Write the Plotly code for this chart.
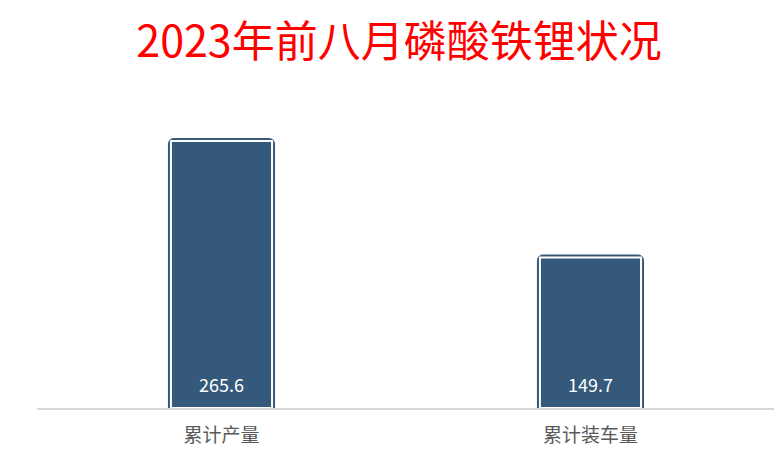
import plotly.graph_objects as go

# 2023年前八月磷酸铁锂
categories = ['累计产量', '累计装车量']
values = [265.6, 149.7]

bar_color = '#34597A'
font_cjk = "Noto Sans CJK SC"

fig = go.Figure()

# outer dark frame (thick line in bar colour, sticks out past the bar edge)
fig.add_trace(go.Bar(
    x=categories,
    y=values,
    width=0.274,
    marker=dict(color=bar_color, line=dict(color=bar_color, width=6), cornerradius=3),
    hoverinfo='skip',
    showlegend=False
))

# same bar again with a thin white rim on top of the frame
fig.add_trace(go.Bar(
    x=categories,
    y=values,
    width=0.274,
    marker=dict(color=bar_color, line=dict(color='white', width=2)),
    showlegend=False
))

# value labels near the bottom of each bar
for c, v in zip(categories, values):
    fig.add_annotation(
        x=c, y=0, text=f"{v:.1f}", showarrow=False,
        yanchor='middle', yshift=24,
        font=dict(color='white', size=18, family=font_cjk)
    )

fig.update_layout(
    title=dict(
        text="2023年前八月磷酸铁锂状况",
        font=dict(size=43, color='#FF0000', family=font_cjk),
        x=0.5, xanchor='center', y=0.925, yanchor='middle'
    ),
    barmode='overlay',
    paper_bgcolor='white',
    plot_bgcolor='white',
    font=dict(family=font_cjk, size=18, color='#595959'),
    margin=dict(t=96, b=51, l=29, r=15),
    xaxis=dict(
        showgrid=False,
        showline=True,
        linecolor='#D9D9D9',
        linewidth=2,
        ticks='',
        ticklabelstandoff=9,
        tickfont=dict(size=19, color='#595959')
    ),
    yaxis=dict(
        range=[0, 302.5],
        visible=False
    ),
    width=782,
    height=451
)

fig.write_html("out.html")
